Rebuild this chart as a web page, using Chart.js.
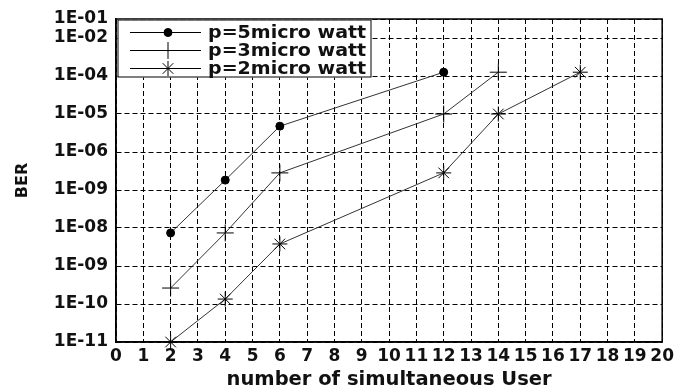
<!DOCTYPE html>
<html>
<head>
<meta charset="utf-8">
<script src="https://cdn.jsdelivr.net/npm/chart.js@4"></script>
<style>
  html, body { margin: 0; padding: 0; background: #fff; }
  #wrap { width: 678px; height: 390px; }
</style>
</head>
<body>
<div id="wrap"><canvas id="c" width="678" height="390"></canvas></div>
<script>
// ---- data ----
const seriesNames = ['p=5micro watt', 'p=3micro watt', 'p=2micro watt'];
// users (x) for each series
const usersP5 = [2, 4, 6, 12];
const usersP3 = [2, 4, 6, 12, 14];
const usersP2 = [2, 4, 6, 12, 14, 17];
// BER positions on the (label-indexed) y axis
const berP5 = [2.87, 4.26, 5.68, 7.1];
const berP3 = [1.42, 2.87, 4.45, 6.0, 7.1];
const berP2 = [0, 1.13, 2.58, 4.45, 6.0, 7.1];
// y tick labels as printed in the figure, and their axis positions
const yTickLabels = ['1E-11', '1E-10', '1E-09', '1E-08', '1E-09', '1E-06', '1E-05', '1E-04', '1E-02', '1E-01'];
const yTickPos    = [0, 1, 2, 3, 4, 5, 6, 7, 8, 8.5];
const xMin = 0, xMax = 20;

function pts(xs, ys) { return xs.map((x, i) => ({ x: x, y: ys[i] })); }

const datasets = [
  { label: seriesNames[0], data: pts(usersP5, berP5), pointStyle: 'circle', pointRadius: 4, pointBackgroundColor: '#000', pointBorderColor: '#000', pointBorderWidth: 1 },
  { label: seriesNames[1], data: pts(usersP3, berP3), pointStyle: 'cross', pointRadius: 8.5, pointBorderColor: '#000', pointBorderWidth: 1 },
  { label: seriesNames[2], data: pts(usersP2, berP2), pointStyle: 'star', pointRadius: 7.5, pointBorderColor: '#000', pointBorderWidth: 1 }
].map(d => Object.assign({ borderColor: '#333', borderWidth: 1, showLine: true, fill: false, tension: 0, clip: false }, d));

const frameAndLegend = {
  id: 'frameAndLegend',
  afterDatasetsDraw(chart) {
    const ctx = chart.ctx, a = chart.chartArea;
    ctx.save();
    // plot frame
    ctx.strokeStyle = '#000';
    ctx.lineWidth = 1.5;
    ctx.setLineDash([]);
    ctx.strokeRect(a.left, a.top, a.right - a.left, a.bottom - a.top);
    // legend box
    const bx = a.left + 1.5, by = a.top + 0.5, bw = 254, bh = 58;
    ctx.fillStyle = '#fff';
    ctx.fillRect(bx, by, bw, bh);
    ctx.lineWidth = 1;
    ctx.strokeRect(bx + 0.5, by + 0.5, bw - 1, bh - 1);
    chart.data.datasets.forEach((ds, i) => {
      const cy = by + 13 + i * 18;
      ctx.strokeStyle = '#000';
      ctx.lineWidth = 1;
      ctx.beginPath();
      ctx.moveTo(a.left + 14, cy);
      ctx.lineTo(a.left + 85, cy);
      ctx.stroke();
      Chart.helpers.drawPoint(ctx, {
        pointStyle: ds.pointStyle, radius: ds.pointRadius, borderWidth: 1, rotation: 0
      }, a.left + 52, cy);
      ctx.fillStyle = '#000';
      ctx.strokeStyle = '#000';
      if (ds.pointStyle === 'circle') { ctx.fill(); }
      ctx.save();
      ctx.font = 'bold 17px "DejaVu Sans"';
      ctx.textAlign = 'left';
      ctx.textBaseline = 'middle';
      ctx.translate(a.left + 92, cy + 1);
      ctx.scale(1.12, 1);
      ctx.fillStyle = '#111';
      ctx.fillText(ds.label, 0, 0);
      ctx.restore();
    });
    ctx.restore();
  }
};

new Chart(document.getElementById('c'), {
  type: 'scatter',
  data: { datasets: datasets },
  options: {
    responsive: false,
    animation: false,
    devicePixelRatio: 1,
    layout: { padding: { top: 19, right: 12, left: 0, bottom: 0 } },
    plugins: { legend: { display: false }, tooltip: { enabled: false } },
    scales: {
      x: {
        type: 'linear', min: xMin, max: xMax,
        ticks: { stepSize: 1, color: '#111', padding: 4, maxRotation: 0, autoSkip: false,
                 font: { family: 'DejaVu Sans', weight: 'bold', size: 17 } },
        grid: { color: '#000', lineWidth: 1, drawTicks: false },
        border: { display: true, color: '#000', width: 1.5, dash: [5, 3] },
        title: { display: true, text: 'number of simultaneous User', color: '#111',
                 font: { family: 'DejaVu Sans', weight: 'bold', size: 19.5, lineHeight: 1 }, padding: 0 },
        afterFit(s) { s.height = 48; }
      },
      y: {
        type: 'linear', min: 0, max: 8.5,
        afterBuildTicks(s) { s.ticks = yTickPos.map(v => ({ value: v })); },
        ticks: { color: '#111', padding: 8, autoSkip: false,
                 font: { family: 'DejaVu Sans', weight: 'bold', size: 17 },
                 callback: (v, i) => yTickLabels[i] },
        grid: { color: '#000', lineWidth: 1, drawTicks: false },
        border: { display: true, color: '#000', width: 1.5, dash: [5, 3] },
        title: { display: true, text: 'BER', color: '#111',
                 font: { family: 'DejaVu Sans', weight: 'bold', size: 16 }, padding: { top: 13 } },
        afterFit(s) { s.width = 116; }
      }
    }
  },
  plugins: [frameAndLegend]
});
</script>
</body>
</html>
